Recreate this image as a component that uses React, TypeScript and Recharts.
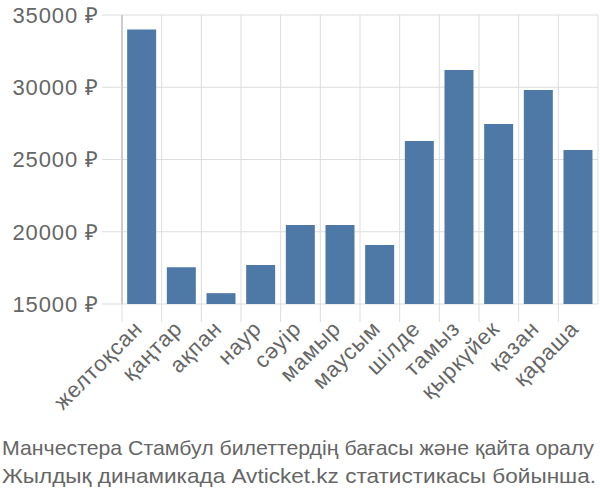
import React from 'react'
import { BarChart, Bar, XAxis, YAxis, CartesianGrid } from 'recharts'

const months = [
  'желтоқсан',
  'қаңтар',
  'ақпан',
  'наур',
  'сәуір',
  'мамыр',
  'маусым',
  'шілде',
  'тамыз',
  'қыркүйек',
  'қазан',
  'қараша',
]
const prices = [34000, 17550, 15750, 17700, 20470, 20470, 19080, 26280, 31190, 27460, 29810, 25660]
const yTicks = [15000, 20000, 25000, 30000, 35000]
const captionLines = [
  'Манчестера Стамбул билеттердің бағасы және қайта оралу',
  'Жылдық динамикада Avticket.kz статистикасы бойынша.',
]

const data = months.map((m, i) => ({ month: m, price: prices[i] }))

const FONT = '"Liberation Sans", Arial, sans-serif'
const TEXT = '#666'
const GRID = '#ddd'

function MonthTick(props: any) {
  const { x, y, payload } = props
  const half = payload.offset ?? 0
  const ax = x + 2
  const ay = y + 18
  return (
    <g>
      <line x1={x - half} x2={x - half} y1={y - 8} y2={y + 10} stroke={GRID} />
      <text
        x={ax}
        y={ay}
        textAnchor="end"
        fill={TEXT}
        fontSize={22}
        letterSpacing={0.9}
        fontFamily={FONT}
        transform={`rotate(-45 ${ax} ${ay})`}
      >
        {payload.value}
      </text>
    </g>
  )
}

export default function App() {
  return (
    <div
      style={{
        position: 'absolute',
        left: 0,
        top: 0,
        width: 600,
        height: 500,
        background: '#fff',
        overflow: 'hidden',
      }}
    >
      <BarChart
        width={600}
        height={430}
        data={data}
        margin={{ top: 15, right: 2, bottom: 0, left: 0 }}
        barCategoryGap="13%"
      >
        <CartesianGrid
          stroke={GRID}
          verticalCoordinatesGenerator={({ offset }: any) =>
            months
              .map((_, i) => offset.left + (i * offset.width) / months.length)
              .concat(offset.left + offset.width)
          }
        />
        <XAxis
          dataKey="month"
          interval={0}
          axisLine={false}
          tickLine={false}
          height={126}
          tick={<MonthTick />}
        />
        <YAxis
          width={122}
          domain={[15000, 35000]}
          ticks={yTicks}
          allowDataOverflow
          tickFormatter={(v) => `${v} ₽`}
          tickSize={20}
          tickMargin={3}
          axisLine={{ stroke: '#aaa' }}
          tickLine={{ stroke: GRID }}
          tick={{ fill: TEXT, fontSize: 22, fontFamily: FONT, letterSpacing: 0.9 }}
        />
        <Bar dataKey="price" fill="#4e79a7" isAnimationActive={false} />
      </BarChart>
      <svg
        width={600}
        height={70}
        style={{ position: 'absolute', left: 0, top: 430 }}
      >
        <text x={2} y={25} fontFamily={FONT} fontSize={21} fill={TEXT} textLength={592} lengthAdjust="spacingAndGlyphs">
          {captionLines[0]}
        </text>
        <text x={2} y={53} fontFamily={FONT} fontSize={21} fill={TEXT} textLength={594} lengthAdjust="spacingAndGlyphs">
          {captionLines[1]}
        </text>
      </svg>
    </div>
  )
}
